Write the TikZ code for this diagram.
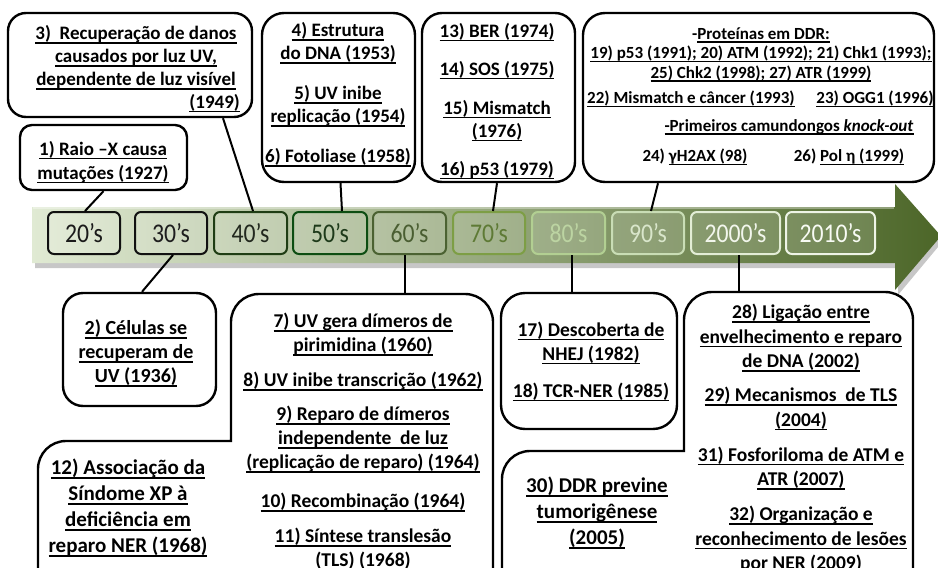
\documentclass[tikz,border=0pt]{standalone}
\usepackage{fontspec}
\setmainfont{Carlito}
\newcommand\uu[1]{\leavevmode\setbox0=\hbox{#1}\rlap{\rule[-0.21em]{\wd0}{0.075em}}\box0}
\begin{document}
\begin{tikzpicture}[x=1pt,y=-1pt,
  bx/.style={draw=black, line width=2.4pt, fill=white, inner sep=0pt},
  conn/.style={line width=2pt},
  dec/.style={draw, line width=2pt, rounded corners=6pt, minimum height=42pt, fill=white, fill opacity=0.15, text opacity=1, inner sep=0pt, font=\fontsize{27}{27}\selectfont},
  t19/.style={align=center, inner sep=0pt, font=\bfseries\fontsize{19}{23}\selectfont},
  t17/.style={align=center, inner sep=0pt, font=\bfseries\fontsize{17}{19.5}\selectfont},
  tb/.style={align=center, inner sep=0pt, font=\bfseries\fontsize{19.5}{24}\selectfont},
  tbig/.style={align=center, inner sep=0pt, font=\bfseries\fontsize{21}{26}\selectfont}]
\useasboundingbox (0,0) rectangle (938,568);
\clip (0,0) rectangle (938,568);
% band shadow and band
\fill[black, opacity=0.22] (35,212) -- (898,212) -- (898,190) -- (943,241) -- (898,295) -- (898,268) -- (35,268) -- cycle;
\shade[left color={rgb,255:red,224;green,234;blue,211}, middle color={rgb,255:red,158;green,187;blue,122}, right color={rgb,255:red,76;green,102;blue,40}]
  (32,207) -- (895,207) -- (895,184) -- (941,236) -- (895,290) -- (895,263) -- (32,263) -- cycle;
\draw[white, opacity=0.35, line width=1.5pt] (33,208) -- (894,208);
% decade boxes
\node[dec, minimum width=72pt, draw={rgb,255:red,17;green,17;blue,17}, text={rgb,255:red,26;green,26;blue,26}] (d20) at (84,233) {\scalebox{0.88}[1]{20’s}};
\node[dec, minimum width=72pt, draw={rgb,255:red,17;green,17;blue,17}, text={rgb,255:red,30;green,30;blue,30}] (d30) at (171,233) {\scalebox{0.88}[1]{30’s}};
\node[dec, minimum width=73pt, draw={rgb,255:red,31;green,61;blue,20}, text={rgb,255:red,34;green,40;blue,30}] (d40) at (250.5,233) {\scalebox{0.88}[1]{40’s}};
\node[dec, minimum width=74pt, draw={rgb,255:red,13;green,77;blue,18}, text={rgb,255:red,30;green,58;blue,26}] (d50) at (330,233) {\scalebox{0.88}[1]{50’s}};
\node[dec, minimum width=73pt, draw={rgb,255:red,75;green,98;blue,50}, text={rgb,255:red,74;green,94;blue,50}] (d60) at (409.5,233) {\scalebox{0.88}[1]{60’s}};
\node[dec, minimum width=72pt, draw={rgb,255:red,125;green,158;blue,69}, text={rgb,255:red,94;green,122;blue,53}] (d70) at (489,233) {\scalebox{0.88}[1]{70’s}};
\node[dec, minimum width=73pt, draw={rgb,255:red,178;green,207;blue,146}, text={rgb,255:red,188;green,212;blue,162}] (d80) at (568.5,233) {\scalebox{0.88}[1]{80’s}};
\node[dec, minimum width=72pt, draw={rgb,255:red,201;green,221;blue,181}, text={rgb,255:red,217;green,230;blue,203}] (d90) at (648,233) {\scalebox{0.88}[1]{90’s}};
\node[dec, minimum width=89pt, draw={rgb,255:red,227;green,237;blue,214}, text={rgb,255:red,242;green,246;blue,236}] (d2000) at (735.5,233) {\scalebox{0.88}[1]{2000’s}};
\node[dec, minimum width=89pt, draw={rgb,255:red,238;green,244;blue,230}, text={rgb,255:red,248;green,251;blue,244}] (d2010) at (830.5,233) {\scalebox{0.88}[1]{2010’s}};
% top boxes
\node[bx, rounded corners=18pt, minimum width=244pt, minimum height=104pt] (B3) at (130,65) {};
\node[bx, rounded corners=12pt, minimum width=167pt, minimum height=65pt] (B1) at (103.5,157.5) {};
\node[bx, rounded corners=22pt, minimum width=153pt, minimum height=169pt] (B4) at (338.5,97.5) {};
\node[bx, rounded corners=20pt, minimum width=153pt, minimum height=169pt] (B13) at (498.5,97.5) {};
\node[bx, rounded corners=22pt, minimum width=351pt, minimum height=169pt] (BDDR) at (758.5,97.5) {};
% bottom boxes
\node[bx, rounded corners=20pt, minimum width=153pt, minimum height=113pt] (B2) at (139.5,349.5) {};
\node[bx, rounded corners=24pt, minimum width=176pt, minimum height=136pt] (B17) at (589,361) {};
\filldraw[bx, line cap=rect, rounded corners=28pt] (231,441) -- (231,294) -- (493,294) -- (493,620) -- (38,620) -- (38,441) -- (231,441);
\filldraw[bx, line cap=rect, rounded corners=28pt] (684,451) -- (684,292) -- (913,292) -- (913,620) -- (502,620) -- (502,451) -- (684,451);
\coordinate (L1top) at (405,294);
\coordinate (L2top) at (739,292);
% connectors
\draw[conn] (B1.south) -- ([xshift=1pt]d20.north);
\draw[conn] ([xshift=93pt]B3.south) -- ([xshift=2.5pt]d40.north);
\draw[conn] ([xshift=2pt]B4.south) -- ([xshift=12pt]d50.north);
\draw[conn] ([xshift=-1.5pt]B13.south) -- ([xshift=4pt]d70.north);
\draw[conn] ([xshift=-100.5pt]BDDR.south) -- ([xshift=3pt]d90.north);
\draw[conn] ([xshift=2pt]d30.south) -- ([xshift=2.5pt]B2.north);
\draw[conn] ([xshift=-4.5pt]d60.south) -- (L1top);
\draw[conn] ([xshift=3.5pt]d80.south) -- ([xshift=-17pt]B17.north);
\draw[conn] ([xshift=3.5pt]d2000.south) -- (L2top);
% top texts
\node[t19] (T3) at (136,57.5) {\uu{3)\ \ Recuperação de danos}\\ \uu{causados por luz UV,}\\ \uu{dependente de luz visível}};
\node[t19, anchor=east] (T3b) at (240,103) {\uu{(1949)}};
\node[t19, font=\bfseries\fontsize{19}{24}\selectfont] (T1) at (103,162) {\uu{1) Raio –X causa}\\ \uu{mutações (1927)}};
\node[t19] (T4) at (338,94.5) {\uu{4) Estrutura}\\ \uu{do DNA (1953)}\\[17pt] \uu{5) UV inibe}\\ \uu{replicação (1954)}\\[17pt] \uu{6) Fotoliase (1958)}};
\node[t19] (T13) at (497,101) {\uu{13) BER (1974)}\\[15pt] \uu{14) SOS (1975)}\\[16pt] \uu{15) Mismatch}\\ \uu{(1976)}\\[15pt] \uu{16) p53 (1979)}};
\node[t17] (TDa) at (761,54.5) {-\uu{Proteínas em DDR:}\\ \uu{19) p53 (1991); 20) ATM (1992); 21) Chk1 (1993);}\\ \uu{25) Chk2 (1998); 27) ATR (1999)}};
\node[t17] (TD22) at (691,99) {\uu{22) Mismatch e câncer (1993)}};
\node[t17] (TD23) at (875,99) {\uu{23) OGG1 (1996)}};
\node[t17] (TDp) at (789,127) {\uu{-Primeiros camundongos \textit{knock-out}}};
\node[t17] (TD24) at (695,157) {24) \uu{γH2AX (98)}};
\node[t17] (TD26) at (849,157) {26) \uu{Pol η (1999)}};
% bottom texts
\node[tb, font=\bfseries\fontsize{20}{24}\selectfont] (T2) at (136,353) {\uu{2) Células se}\\ \uu{recuperam de}\\ \uu{UV (1936)}};
\node[tb] (T7) at (363,442) {\uu{7) UV gera dímeros de}\\ \uu{pirimidina (1960)}\\[11pt] \uu{8) UV inibe transcrição (1962)}\\[10pt] \uu{9) Reparo de dímeros}\\ \uu{independente\ \ de luz}\\ \uu{(replicação de reparo) (1964)}\\[15pt] \uu{10) Recombinação (1964)}\\[11pt] \uu{11) Síntese translesão}\\ \uu{(TLS) (1968)}};
\node[tbig] (T12) at (128,508) {\uu{12) Associação da}\\ \uu{Síndome XP à}\\ \uu{deficiência em}\\ \uu{reparo NER (1968)}};
\node[tb] (T17) at (591,361.5) {\uu{17) Descoberta de}\\ \uu{NHEJ (1982)}\\[13pt] \uu{18) TCR-NER (1985)}};
\node[tb, font=\bfseries\fontsize{19.5}{24.5}\selectfont] (T28) at (801,439) {\uu{28) Ligação entre}\\ \uu{envelhecimento e reparo}\\ \uu{de DNA (2002)}\\[9.5pt] \uu{29) Mecanismos\ \ de TLS}\\ \uu{(2004)}\\[10.5pt] \uu{31) Fosforiloma de ATM e}\\ \uu{ATR (2007)}\\[10.5pt] \uu{32) Organização e}\\ \uu{reconhecimento de lesões}\\ \uu{por NER (2009)}};
\node[tbig] (T30) at (597,513) {\uu{30) DDR previne}\\ \uu{tumorigênese}\\ \uu{(2005)}};
\end{tikzpicture}
\end{document}
